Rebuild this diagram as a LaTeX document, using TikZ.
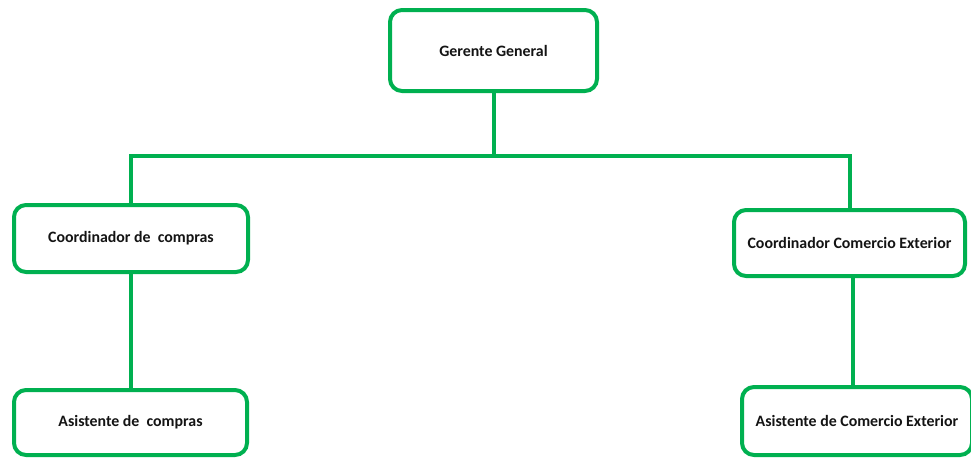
\documentclass[tikz,border=0pt]{standalone}
\usepackage{fontspec}
\setmainfont{Carlito}
\usetikzlibrary{backgrounds}
\definecolor{orggreen}{RGB}{0,176,80}
\definecolor{txtdark}{RGB}{20,20,20}
\begin{document}
\begin{tikzpicture}[x=0.75pt,y=-0.75pt,
  orgbox/.style={draw=orggreen,line width=3pt,rounded corners=9pt,fill=white,
    inner sep=0pt,outer sep=0pt,font=\fontsize{11.9}{14}\selectfont\bfseries,text=txtdark},
  link/.style={draw=orggreen,line width=3pt}]
\useasboundingbox (0,0) rectangle (971,458);
\node[orgbox,minimum width=207*0.75pt,minimum height=81*0.75pt] (gg) at (493.5,50.5) {Gerente General};
\node[orgbox,minimum width=234*0.75pt,minimum height=67*0.75pt] (cc) at (131,238.5) {Coordinador de\ \ compras};
\node[orgbox,minimum width=231*0.75pt,minimum height=66*0.75pt] (cce) at (849.5,243) {Coordinador Comercio Exterior};
\node[orgbox,minimum width=233*0.75pt,minimum height=65*0.75pt] (ac) at (130.5,422.5) {Asistente de\ \ compras};
\node[orgbox,minimum width=230*0.75pt,minimum height=68*0.75pt] (ace) at (857,421) {Asistente de Comercio Exterior};
\coordinate (bus) at (493.5,156);
\coordinate (drop) at ([xshift=2.5pt]cce.south);
\begin{scope}[on background layer]
\draw[link] (gg.south) -- (bus);
\draw[link] (cc.north) |- (bus) -| (cce.north);
\draw[link] (cc.south) -- (ac.north -| cc.south);
\draw[link] (drop) -- (ace.north -| drop);
\end{scope}
\end{tikzpicture}
\end{document}
